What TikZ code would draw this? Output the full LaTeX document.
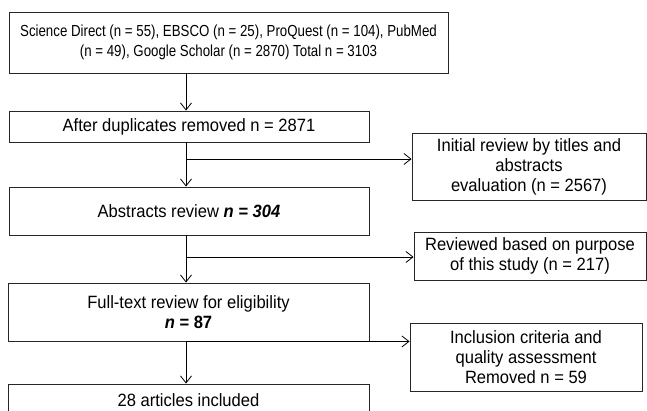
\documentclass[tikz,border=0pt]{standalone}
\usepackage{fontspec}
\setmainfont{Liberation Sans}[FakeStretch=0.93]
\newfontfamily\topfont{Liberation Sans}[FakeStretch=0.83]
\usetikzlibrary{arrows.meta}
\begin{document}
\begin{tikzpicture}[x=1pt,y=-1pt,
  box/.style={draw=black!85,line width=0.9pt,rectangle,inner sep=0pt,align=center,
    font=\fontsize{17.8}{20}\selectfont},
  arr/.style={draw=black,line width=0.8pt,-{Straight Barb[length=7pt,width=11pt,line width=0.8pt]}}]
\useasboundingbox (0,0) rectangle (647,410);
\clip (0,0) rectangle (647,410);
\node[box,minimum width=439pt,minimum height=61pt,font=\topfont\fontsize{16}{20}\selectfont] (top) at (228.5,42.5)
  {Science Direct (n = 55), EBSCO (n = 25), ProQuest (n = 104), PubMed\\(n = 49), Google Scholar (n = 2870) Total n = 3103};
\node[box,minimum width=360pt,minimum height=31pt] (b2) at (189,126.5) {After duplicates removed n = 2871};
\node[box,minimum width=360pt,minimum height=48pt] (b3) at (189,211) {Abstracts review \textbf{\textit{n = 304}}};
\node[box,minimum width=361pt,minimum height=58pt] (b4) at (188.5,312) {Full-text review for eligibility\\\textbf{\textit{n} = 87}};
\node[box,minimum width=361pt,minimum height=32pt] (b5) at (188.5,400) {28 articles included};
\node[box,minimum width=234pt,minimum height=67pt] (init) at (529,166.5) {Initial review by titles and\\abstracts\\evaluation (n = 2567)};
\node[box,minimum width=232pt,minimum height=48pt] (rev) at (530,256) {Reviewed based on purpose\\of this study (n = 217)};
\node[box,minimum width=232pt,minimum height=68pt] (inc) at (526,357) {Inclusion criteria and\\quality assessment\\Removed n = 59};
\coordinate (spine) at (186,0);
\coordinate (br1) at (186,159);
\coordinate (br2) at (186,257);
\draw[arr] (top.south -| spine) -- (b2.north -| spine);
\draw[arr] (b2.south -| spine) -- (b3.north -| spine);
\draw[arr] (b3.south -| spine) -- (b4.north -| spine);
\draw[arr] (b4.south -| spine) -- (b5.north -| spine);
\draw[arr] (br1) -- (br1 -| init.west);
\draw[arr] (br2) -- (br2 -| rev.west);
\draw[arr] (b4.south -| spine) -- (b4.south -| inc.west);
\end{tikzpicture}
\end{document}
